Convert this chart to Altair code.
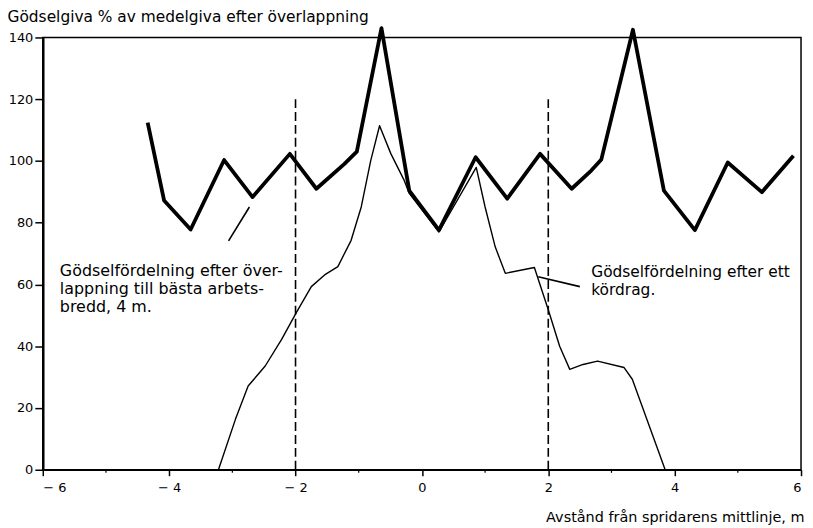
import altair as alt
import pandas as pd

# Overlap distribution (thick line)
thick_x = [-4.34, -4.08, -3.66, -3.13, -2.68, -2.09, -1.67, -1.23, -1.03, -0.64, -0.2, 0.27,
           0.85, 1.35, 1.87, 2.37, 2.68, 2.84, 3.34, 3.83, 4.32, 4.84, 5.38, 5.88]
thick_y = [112.4, 87.2, 77.8, 100.3, 88.3, 102.3, 91.0, 99.0, 103.0, 143.0, 90.4, 77.6,
           101.2, 87.8, 102.3, 91.0, 96.9, 100.5, 142.5, 90.4, 77.6, 99.5, 89.9, 101.7]

# Single pass distribution (thin line)
thin_x = [-3.22, -2.95, -2.75, -2.48, -2.22, -1.99, -1.75, -1.54, -1.33, -1.12, -0.96, -0.81,
          -0.67, -0.49, -0.28, -0.2, 0.27, 0.86, 1.0, 1.16, 1.32, 1.78, 2.0, 2.18, 2.34,
          2.55, 2.78, 3.2, 3.33, 3.85]
thin_y = [0.0, 16.4, 27.1, 33.6, 42.2, 50.8, 59.3, 63.1, 65.8, 74.3, 85.1, 100.1,
          111.4, 102.3, 93.7, 89.5, 77.0, 97.9, 85.1, 72.2, 63.6, 65.5, 51.8, 40.0, 32.5,
          34.1, 35.2, 33.1, 29.3, 0.0]

# Working-width markers
marker_x = [-2, 2]
marker_top = [120, 120]

# Annotation text
left_lines = ["Gödselfördelning efter över-", "lappning till bästa arbets-", "bredd, 4 m."]
left_line_y = [64.4, 58.6, 52.8]
right_lines = ["Gödselfördelning efter ett", "kördrag."]
right_line_y = [64.1, 58.3]

# Pointer lines
ptr_x = [-3.06, 1.84]
ptr_y = [74.1, 62.5]
ptr_x2 = [-2.73, 2.5]
ptr_y2 = [85.1, 59.3]

minor_ticks = [-5, -3, -1, 1, 3, 5]

FONT = "DejaVu Sans"

df_thick = pd.DataFrame({"x": thick_x, "y": thick_y})
df_thin = pd.DataFrame({"x": thin_x, "y": thin_y})
df_mark = pd.DataFrame({"x": marker_x, "y0": [0, 0], "y1": marker_top})
df_left = pd.DataFrame({"x": [-5.73] * 3, "y": left_line_y, "t": left_lines})
df_right = pd.DataFrame({"x": [2.68] * 2, "y": right_line_y, "t": right_lines})
df_ptr = pd.DataFrame({"x": ptr_x, "y": ptr_y, "x2": ptr_x2, "y2": ptr_y2})
df_minor = pd.DataFrame({"x": minor_ticks, "y0": [0] * 6, "y1": [-1.0] * 6})

xscale = alt.Scale(domain=[-6, 6], nice=False, zero=False)
yscale = alt.Scale(domain=[0, 140], nice=False)

xaxis = alt.Axis(
    values=[-6, -4, -2, 0, 2, 4, 6],
    labelExpr="datum.value < 0 ? '\u2212 ' + abs(datum.value) : format(datum.value, 'd')",
    title="Avstånd från spridarens mittlinje, m",
    titleAlign="right", titleAnchor="end", titleX=766, titleY=48,
    titleBaseline="middle", titleFontWeight="normal", titleFontSize=14.5, titleFont=FONT,
    labelFont=FONT, labelFontSize=13, labelColor="black", labelPadding=6,
    tickSize=6, tickColor="black", tickWidth=1.5,
    domainColor="black", domainWidth=1.5, grid=False,
)
yaxis = alt.Axis(
    values=[0, 20, 40, 60, 80, 100, 120, 140],
    title="Gödselgiva % av medelgiva efter överlappning",
    titleAngle=0, titleAlign="left", titleAnchor="start", titleX=-36, titleY=-21,
    titleBaseline="middle", titleFontWeight="normal", titleFontSize=15.5, titleFont=FONT,
    labelFont=FONT, labelFontSize=13, labelColor="black", labelPadding=2,
    tickSize=8, tickColor="black", tickWidth=1.5,
    domainColor="black", domainWidth=2.5, grid=False,
)

base_x = alt.X("x:Q", scale=xscale, axis=xaxis)
base_y = alt.Y("y:Q", scale=yscale, axis=yaxis)

thick = alt.Chart(df_thick).mark_line(color="black", strokeWidth=3.8, strokeJoin="round").encode(
    x=base_x, y=base_y, order="x:Q"
)
thin = alt.Chart(df_thin).mark_line(color="black", strokeWidth=1.4, strokeJoin="round").encode(
    x="x:Q", y="y:Q", order="x:Q"
)
markers = alt.Chart(df_mark).mark_rule(color="black", strokeWidth=1.6, strokeDash=[9, 4]).encode(
    x="x:Q", y="y0:Q", y2="y1:Q"
)
minor = alt.Chart(df_minor).mark_rule(color="black", strokeWidth=1.2).encode(
    x="x:Q", y="y0:Q", y2="y1:Q"
)
pointers = alt.Chart(df_ptr).mark_rule(color="black", strokeWidth=1.6).encode(
    x="x:Q", y="y:Q", x2="x2:Q", y2="y2:Q"
)
left_text = alt.Chart(df_left).mark_text(
    align="left", baseline="middle", font=FONT, fontSize=16, color="black"
).encode(x="x:Q", y="y:Q", text="t:N")
right_text = alt.Chart(df_right).mark_text(
    align="left", baseline="middle", font=FONT, fontSize=15.5, color="black"
).encode(x="x:Q", y="y:Q", text="t:N")

chart = alt.layer(thick, thin, markers, minor, pointers, left_text, right_text).properties(
    width=763, height=435,
    padding={"left": 35, "top": 28, "right": 4, "bottom": 60},
    autosize="none",
    background="white",
).configure_view(stroke="black", strokeWidth=1.5)

chart.save("out.html", embed_options={"renderer": "svg", "actions": False})
